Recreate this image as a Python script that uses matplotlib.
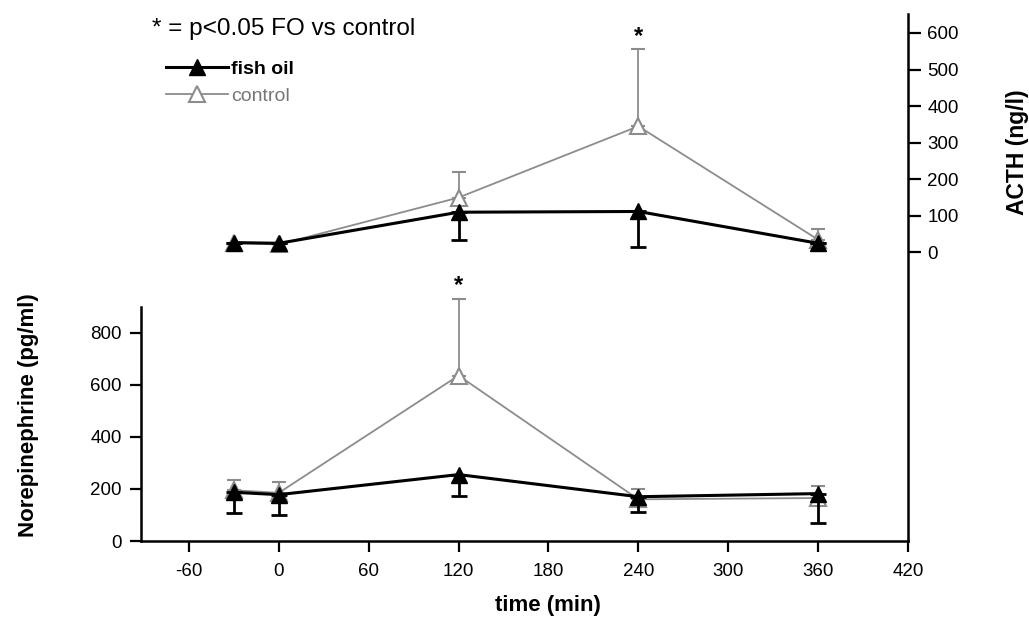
import matplotlib
matplotlib.use('Agg')
import matplotlib.pyplot as plt
from matplotlib.lines import Line2D

plt.rcParams['font.family'] = ['Liberation Sans', 'DejaVu Sans']
plt.rcParams['axes.unicode_minus'] = False

# sampling times (min)
time = [-30, 0, 120, 240, 360]

# norepinephrine (pg/ml), bottom panel, left axis
ne_fish = [187, 178, 255, 170, 182]
ne_fish_err = [78, 78, 82, 59, 112]      # drawn downward
ne_ctrl = [195, 185, 635, 160, 165]
ne_ctrl_err = [40, 43, 295, 40, 48]      # drawn upward

# ACTH (ng/l), top panel, right axis
acth_fish = [27, 25, 110, 112, 25]
acth_fish_err = [0, 0, 76, 98, 0]
acth_ctrl = [25, 22, 150, 345, 35]
acth_ctrl_err = [0, 0, 70, 210, 28]

x_ticks = [-60, 0, 60, 120, 180, 240, 300, 360, 420]
ne_ticks = [0, 200, 400, 600, 800]
acth_ticks = [0, 100, 200, 300, 400, 500, 600]

black = 'black'
grey = '#8c8c8c'

fig = plt.figure(figsize=(10.29, 6.21), dpi=100)
ax = fig.add_axes([0.137, 0.1288, 0.7454, 0.8487])
ax2 = ax.twinx()

# bottom panel
ax.errorbar(time, ne_ctrl, yerr=[[0] * 5, ne_ctrl_err], color=grey, lw=1.3,
            marker='^', ms=11, mfc='white', mec=grey, mew=1.5,
            ecolor=grey, elinewidth=1.3, capsize=5, capthick=1.3, zorder=2)
ax.errorbar(time, ne_fish, yerr=[ne_fish_err, [0] * 5], color=black, lw=2.2,
            marker='^', ms=11, mfc=black, mec=black,
            ecolor=black, elinewidth=2, capsize=6, capthick=2, zorder=3)

# top panel
ax2.errorbar(time, acth_ctrl, yerr=[[0] * 5, acth_ctrl_err], color=grey, lw=1.3,
             marker='^', ms=11, mfc='white', mec=grey, mew=1.5,
             ecolor=grey, elinewidth=1.3, capsize=5, capthick=1.3, zorder=2)
ax2.errorbar(time, acth_fish, yerr=[acth_fish_err, [0] * 5], color=black, lw=2.2,
             marker='^', ms=11, mfc=black, mec=black,
             ecolor=black, elinewidth=2, capsize=6, capthick=2, zorder=3)

# significance stars
ax.text(120, 980, '*', ha='center', va='center', fontsize=17, fontweight='bold')
ax2.text(240, 590, '*', ha='center', va='center', fontsize=17, fontweight='bold')

ax.set_xlim(-92, 420)
ax.set_ylim(0, 2023)
ax2.set_ylim(-789, 652)

ax.set_xticks(x_ticks)
ax.set_yticks(ne_ticks)
ax2.set_yticks(acth_ticks)

for s in ['top', 'right']:
    ax.spines[s].set_visible(False)
for s in ['top', 'left', 'bottom']:
    ax2.spines[s].set_visible(False)
ax.spines['left'].set_bounds(0, 900)
for sp in [ax.spines['left'], ax.spines['bottom'], ax2.spines['right']]:
    sp.set_linewidth(1.8)

ax.tick_params(axis='both', direction='out', length=8, width=1.6, labelsize=13.5, pad=6)
ax.tick_params(axis='x', pad=8)
ax2.tick_params(axis='y', direction='out', length=9, width=1.6, labelsize=13.5, pad=5)

ax.set_ylabel('Norepinephrine (pg/ml)', fontsize=16, fontweight='bold', va='center')
ax.yaxis.set_label_coords(-0.147, 0.239)
ax.set_xlabel('time (min)', fontsize=16, fontweight='bold', va='center')
ax.xaxis.set_label_coords(0.531, -0.123)
ax2.set_ylabel('ACTH (ng/l)', fontsize=16.5, fontweight='bold', va='center')
ax2.yaxis.set_label_coords(1.143, 0.738)

fig.text(152 / 1029, 1 - 29 / 621, '* = p<0.05 FO vs control', fontsize=17.5,
         ha='left', va='center')

handles = [Line2D([], [], color=black, lw=2.2, marker='^', ms=11, mfc=black, mec=black),
           Line2D([], [], color=grey, lw=1.3, marker='^', ms=11, mfc='white', mec=grey, mew=1.5)]
leg = fig.legend(handles, ['fish oil', 'control'], loc='upper left',
                 bbox_to_anchor=(166 / 1029, 1 - 60 / 621), frameon=False,
                 handlelength=3.2, handletextpad=0.15, labelspacing=0.5,
                 fontsize=14, borderaxespad=0, borderpad=0)
leg.get_texts()[0].set_fontweight('bold')
leg.get_texts()[1].set_color('#777777')

fig.savefig('out.png', dpi=100, facecolor='white')
